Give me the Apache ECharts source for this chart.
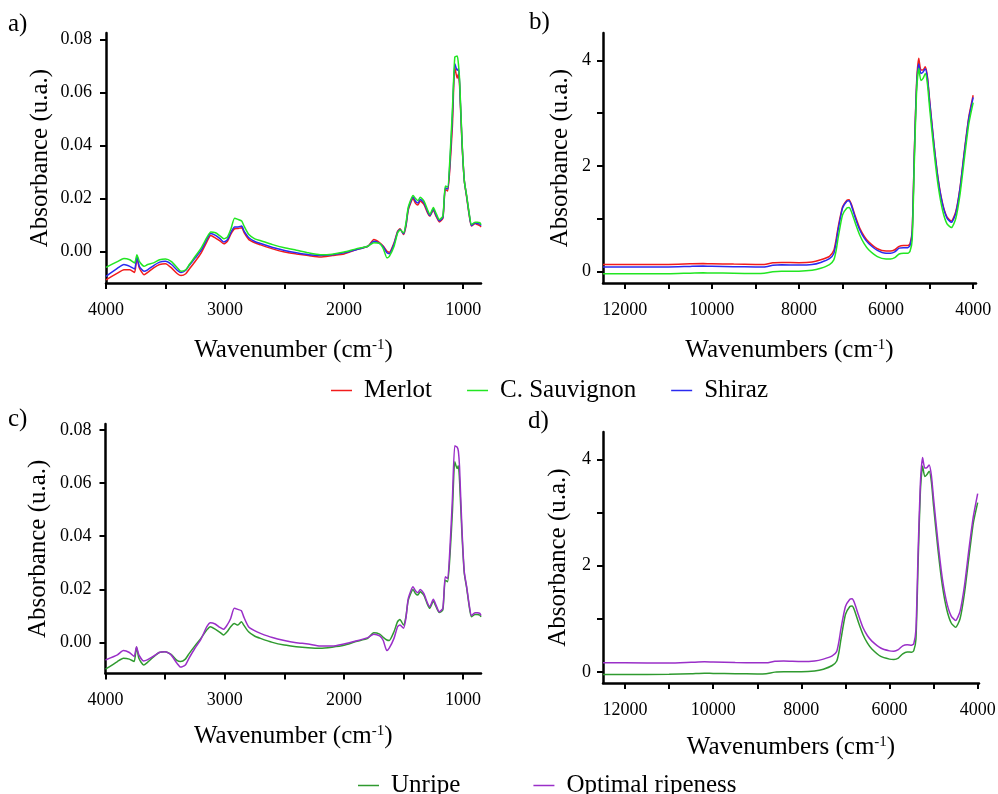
<!DOCTYPE html>
<html>
<head>
<meta charset="utf-8">
<script src="https://cdn.jsdelivr.net/npm/echarts@6/dist/echarts.min.js"></script>
<style>
html,body{margin:0;padding:0;background:#fff;}
#chart{width:998px;height:794px;}
</style>
</head>
<body>
<div id="chart"></div>
<script>
// ---------- DATA ----------
var mirWavenumbers = [4000,3900,3850,3800,3760,3740,3720,3680,3650,3600,3550,3500,3450,3400,3370,3330,3300,3250,3200,3150,3120,3080,3040,3010,2980,2950,2920,2890,2860,2840,2800,2750,2700,2600,2500,2400,2300,2200,2100,2000,1900,1800,1750,1700,1670,1640,1620,1580,1550,1530,1500,1480,1460,1420,1400,1380,1360,1330,1300,1280,1250,1230,1200,1170,1150,1130,1110,1090,1070,1050,1040,1030,1010,990,970,950,930,900,880,860,850];

var merlotMir = [-0.0108,-0.0082,-0.007,-0.007,-0.008,-0.0025,-0.0063,-0.0089,-0.008,-0.0063,
 -0.005,-0.0047,-0.0063,-0.0085,-0.0092,-0.0085,-0.0067,-0.0038,-0.0006,0.0038,
 0.006,0.005,0.0038,0.0028,0.0038,0.0066,0.0085,0.0086,0.0089,0.007,
 0.0044,0.0032,0.0024,0.0009,-0.0003,-0.001,-0.0016,-0.0022,-0.0016,-0.001,
 0.0006,0.0019,0.0044,0.0032,0.0019,0.0,-0.0004,0.0032,0.0076,0.0085,
 0.0063,0.0095,0.0158,0.0199,0.0181,0.0175,0.019,0.0177,0.0146,0.0133,
 0.0156,0.0135,0.0111,0.0124,0.0234,0.0228,0.0323,0.0475,0.0696,0.0654,
 0.067,0.0627,0.0411,0.0266,0.0203,0.0139,0.0095,0.0105,0.0101,0.0097,0.0092];

var sauvignonMir = [-0.0061,-0.0038,-0.0027,-0.0032,-0.0044,-0.0013,-0.0038,-0.0057,-0.005,-0.0044,
 -0.0032,-0.0029,-0.0039,-0.0063,-0.0076,-0.007,-0.005,-0.0019,0.0013,0.0054,
 0.0073,0.007,0.0057,0.0047,0.0054,0.0085,0.0125,0.012,0.0114,0.0095,
 0.0063,0.0047,0.004,0.0025,0.0013,0.0004,-0.0006,-0.0013,-0.0011,-0.0003,
 0.0009,0.0019,0.0032,0.0029,0.0009,-0.0025,-0.0019,0.0019,0.007,0.008,
 0.007,0.0108,0.0168,0.0211,0.0199,0.0191,0.0204,0.019,0.0158,0.0139,
 0.0165,0.0146,0.012,0.0133,0.0247,0.0243,0.036,0.0538,0.0734,0.0738,
 0.071,0.065,0.0424,0.0266,0.0209,0.0146,0.0101,0.011,0.011,0.0108,0.0101];

var shirazMir = [-0.0095,-0.0063,-0.005,-0.0057,-0.0067,-0.0019,-0.0057,-0.0076,-0.007,-0.0054,
 -0.0041,-0.0038,-0.005,-0.0072,-0.008,-0.0072,-0.0053,-0.0025,0.0004,0.0047,
 0.0067,0.006,0.0047,0.0035,0.0044,0.0072,0.0092,0.0092,0.0095,0.0076,
 0.0051,0.0037,0.0029,0.0014,0.0003,-0.0006,-0.0013,-0.0016,-0.0013,-0.0006,
 0.0006,0.0019,0.0038,0.0029,0.0016,-0.0006,-0.0009,0.0028,0.0073,0.0082,
 0.0066,0.01,0.0162,0.0205,0.0189,0.0182,0.0196,0.0184,0.0151,0.0135,
 0.016,0.0139,0.0115,0.0128,0.024,0.0235,0.0342,0.0513,0.0709,0.0684,
 0.069,0.0639,0.0418,0.0266,0.0206,0.0143,0.0097,0.0108,0.0105,0.0103,0.0097];

var optimalMir = [-0.0065,-0.0046,-0.003,-0.0037,-0.0052,-0.0015,-0.0046,-0.0069,-0.0065,-0.0052,
 -0.0037,-0.0034,-0.0046,-0.0078,-0.0092,-0.0084,-0.0059,-0.0021,0.0012,0.006,
 0.0075,0.007,0.0057,0.005,0.0066,0.0091,0.0129,0.0125,0.012,0.0097,
 0.006,0.0045,0.0035,0.0019,0.0008,0.0,-0.0005,-0.0013,-0.0013,-0.0005,
 0.0006,0.0019,0.0032,0.0025,0.0008,-0.003,-0.0021,0.0016,0.006,0.0066,
 0.0054,0.0091,0.0166,0.021,0.0195,0.0188,0.02,0.0185,0.015,0.0135,
 0.0163,0.0144,0.0116,0.0129,0.0248,0.0241,0.036,0.054,0.074,0.0735,
 0.072,0.066,0.043,0.0265,0.021,0.0145,0.0102,0.0112,0.0112,0.011,0.0102];

var unripeMir = [-0.01,-0.0071,-0.0059,-0.0062,-0.0071,-0.0017,-0.0059,-0.0084,-0.0075,-0.0055,
 -0.0037,-0.0034,-0.0044,-0.0067,-0.0071,-0.0062,-0.0042,-0.0012,0.0016,0.0048,
 0.006,0.0051,0.0039,0.0029,0.0041,0.006,0.0072,0.0066,0.0079,0.0066,
 0.0041,0.0025,0.0016,0.0001,-0.0009,-0.0015,-0.0019,-0.0021,-0.0017,-0.001,
 0.0004,0.0016,0.0037,0.0032,0.002,0.001,0.0008,0.0041,0.0079,0.0087,
 0.0066,0.0097,0.016,0.02,0.0185,0.0179,0.0191,0.0179,0.0145,0.0129,
 0.0156,0.0138,0.0113,0.0123,0.0235,0.0229,0.033,0.049,0.068,0.0655,
 0.0665,0.061,0.041,0.026,0.0205,0.014,0.0097,0.0106,0.0106,0.0103,0.0097];

var nirWavenumbers = [12500,12000,11000,10500,10200,10000,9500,9000,8800,8600,8400,8000,7700,7500,7300,7200,7150,7100,7000,6900,6850,6800,6700,6600,6500,6400,6200,6000,5900,5800,5700,5600,5500,5450,5400,5350,5300,5250,5200,5150,5100,5050,5000,4900,4800,4700,4600,4500,4400,4300,4200,4100,4000];

var merlotNir = [0.133,0.133,0.133,0.143,0.148,0.146,0.138,0.133,0.133,0.165,
 0.17,0.165,0.177,0.22,0.285,0.4,0.59,0.84,1.22,1.35,
 1.36,1.28,1.03,0.81,0.665,0.56,0.43,0.385,0.385,0.41,
 0.475,0.49,0.49,0.525,0.78,2.3,3.56,4.04,3.82,3.82,
 3.88,3.69,3.25,2.42,1.73,1.28,1.03,0.955,1.13,1.6,
 2.3,2.93,3.34];

var sauvignonNir = [-0.045,-0.045,-0.045,-0.033,-0.028,-0.03,-0.035,-0.04,-0.035,-0.005,
 0.005,0.005,0.02,0.06,0.13,0.22,0.38,0.64,1.07,1.2,
 1.21,1.14,0.9,0.68,0.52,0.41,0.28,0.235,0.235,0.26,
 0.33,0.345,0.345,0.38,0.6,2.1,3.4,3.85,3.62,3.66,
 3.75,3.55,3.1,2.28,1.6,1.15,0.9,0.83,1.0,1.47,
 2.15,2.8,3.2];

var shirazNir = [0.085,0.085,0.085,0.095,0.1,0.098,0.09,0.085,0.085,0.115,
 0.125,0.12,0.13,0.17,0.24,0.34,0.53,0.79,1.2,1.33,
 1.34,1.26,1.0,0.78,0.63,0.53,0.4,0.345,0.345,0.37,
 0.44,0.45,0.45,0.49,0.75,2.25,3.5,3.93,3.75,3.78,
 3.84,3.66,3.22,2.4,1.71,1.26,1.01,0.93,1.1,1.58,
 2.27,2.9,3.3];

var optimalNir = [0.17,0.17,0.165,0.18,0.19,0.185,0.175,0.17,0.17,0.2,
 0.205,0.195,0.205,0.24,0.3,0.38,0.56,0.82,1.23,1.37,
 1.38,1.31,1.06,0.83,0.68,0.58,0.45,0.395,0.39,0.42,
 0.49,0.51,0.5,0.53,0.8,2.3,3.55,4.04,3.84,3.85,
 3.9,3.7,3.26,2.44,1.75,1.3,1.05,0.97,1.14,1.62,
 2.3,2.92,3.36];

var unripeNir = [-0.05,-0.05,-0.045,-0.035,-0.025,-0.03,-0.035,-0.04,-0.035,-0.005,
 0.0,0.0,0.015,0.05,0.12,0.2,0.36,0.62,1.08,1.23,
 1.24,1.17,0.92,0.7,0.54,0.43,0.29,0.24,0.235,0.26,
 0.34,0.375,0.37,0.4,0.62,2.1,3.4,3.88,3.68,3.72,
 3.78,3.58,3.12,2.3,1.62,1.17,0.92,0.84,1.0,1.48,
 2.15,2.8,3.19];

var mirTickValues = [4000,3500,3000,2500,2000,1500,1000];
var mirLabelValues = [4000,3000,2000,1000];
var nirTickValues = [12000,11000,10000,9000,8000,7000,6000,5000,4000];
var nirLabelValues = [12000,10000,8000,6000,4000];
var mirYTicks = [0,0.02,0.04,0.06,0.08];
var nirYTicks = [0,1,2,3,4];
var nirYLabels = [0,2,4];

var legendTop = ['Merlot','C. Sauvignon','Shiraz'];
var legendBottom = ['Unripe','Optimal ripeness'];
var panelLabels = ['a)','b)','c)','d)'];

// ---------- CHART ----------
var FONT = '"Liberation Serif", "Times New Roman", serif';
function zip(xs, ys){ return xs.map(function(x,i){ return [x, ys[i]]; }); }

function xAxisDef(grid, isMir, gap){
  return {
    gridIndex: grid, type: 'value', inverse: true,
    min: isMir ? 850 : (grid === 1 ? 3935 : 3970),
    max: isMir ? 4000 : 12500,
    axisLine: {show: true, onZero: false, lineStyle: {color: '#000', width: 2.5}},
    axisTick: {show: true, customValues: isMir ? mirTickValues : nirTickValues, length: 6, lineStyle: {color: '#000', width: 2}},
    axisLabel: {customValues: isMir ? mirLabelValues : nirLabelValues, color: '#000', fontSize: 18, fontFamily: FONT, margin: 18,
      hideOverlap: false, formatter: function(v){ return String(v); }},
    splitLine: {show: false},
    name: isMir ? '{t|Wavenumber (cm}{s|-1}{t|)}' : '{t|Wavenumbers (cm}{s|-1}{t|)}',
    nameLocation: 'middle', nameGap: gap,
    nameTextStyle: {color: '#000', fontFamily: FONT, fontSize: 25,
      rich: {t: {fontSize: 25, fontFamily: FONT, color: '#000'}, s: {fontSize: 15, fontFamily: FONT, color: '#000', verticalAlign: 'top'}}}
  };
}
function yAxisDef(grid, isMir, gap){
  var y = {
    gridIndex: grid, type: 'value',
    axisLine: {show: true, onZero: false, lineStyle: {color: '#000', width: 2.5}},
    axisTick: {show: true, customValues: isMir ? mirYTicks : nirYTicks, length: 6, lineStyle: {color: '#000', width: 2}},
    axisLabel: {customValues: isMir ? mirYTicks : nirYLabels, color: '#000', fontSize: 18, fontFamily: FONT, margin: isMir ? 14 : 12,
      formatter: isMir ? function(v){ return v.toFixed(2); } : function(v){ return String(v); }},
    splitLine: {show: false},
    name: 'Absorbance (u.a.)', nameLocation: 'middle', nameGap: gap,
    nameTextStyle: {color: '#000', fontFamily: FONT, fontSize: 25}
  };
  if (grid === 0) { y.min = -0.012; y.max = 0.0825; }
  if (grid === 1) { y.min = -0.22; y.max = 4.52; }
  if (grid === 2) { y.min = -0.0116; y.max = 0.0822; }
  if (grid === 3) { y.min = -0.21; y.max = 4.52; }
  return y;
}
function lineSeries(name, grid, xs, ys, color){
  return {
    name: name, type: 'line', xAxisIndex: grid, yAxisIndex: grid,
    data: zip(xs, ys), showSymbol: false, symbol: 'none', smooth: 0.2,
    lineStyle: {color: color, width: 1.5}, itemStyle: {color: color},
    animation: false, silent: true
  };
}

var C = {merlot: '#f21c1c', sauv: '#22e622', shiraz: '#2a2af0', unripe: '#2f9a2f', optimal: '#9a2fc8'};

var chart = echarts.init(document.getElementById('chart'), null, {renderer: 'canvas'});
chart.setOption({
  backgroundColor: '#fff',
  animation: false,
  grid: [
    {left: 106, top: 33, width: 375, height: 250, outerBoundsMode: 'none', containLabel: false},
    {left: 603, top: 33, width: 373, height: 250, outerBoundsMode: 'none', containLabel: false},
    {left: 105.5, top: 424, width: 375.5, height: 249.5, outerBoundsMode: 'none', containLabel: false},
    {left: 603, top: 432, width: 376, height: 251, outerBoundsMode: 'none', containLabel: false}
  ],
  xAxis: [xAxisDef(0, true, 55), xAxisDef(1, false, 55), xAxisDef(2, true, 50), xAxisDef(3, false, 52)],
  yAxis: [yAxisDef(0, true, 53), yAxisDef(1, false, 30), yAxisDef(2, true, 55), yAxisDef(3, false, 32)],
  legend: [
    {data: legendTop, left: 326, top: 373, itemWidth: 21, itemHeight: 1.5, icon: 'rect', itemGap: 35,
     textStyle: {fontFamily: FONT, fontSize: 25, color: '#000', padding: [0,0,0,7]}, selectedMode: false},
    {data: legendBottom, left: 353, top: 768, itemWidth: 21, itemHeight: 1.5, icon: 'rect', itemGap: 73,
     textStyle: {fontFamily: FONT, fontSize: 25, color: '#000', padding: [0,0,0,7]}, selectedMode: false}
  ],
  graphic: [
    {type: 'text', left: 8, top: 12, style: {text: panelLabels[0], font: '25px ' + FONT, fill: '#000'}},
    {type: 'text', left: 529, top: 10, style: {text: panelLabels[1], font: '25px ' + FONT, fill: '#000'}},
    {type: 'text', left: 8, top: 407, style: {text: panelLabels[2], font: '25px ' + FONT, fill: '#000'}},
    {type: 'text', left: 528, top: 409, style: {text: panelLabels[3], font: '25px ' + FONT, fill: '#000'}}
  ],
  series: [
    lineSeries('Merlot', 0, mirWavenumbers, merlotMir, C.merlot),
    lineSeries('Shiraz', 0, mirWavenumbers, shirazMir, C.shiraz),
    lineSeries('C. Sauvignon', 0, mirWavenumbers, sauvignonMir, C.sauv),
    lineSeries('Merlot', 1, nirWavenumbers, merlotNir, C.merlot),
    lineSeries('Shiraz', 1, nirWavenumbers, shirazNir, C.shiraz),
    lineSeries('C. Sauvignon', 1, nirWavenumbers, sauvignonNir, C.sauv),
    lineSeries('Unripe', 2, mirWavenumbers, unripeMir, C.unripe),
    lineSeries('Optimal ripeness', 2, mirWavenumbers, optimalMir, C.optimal),
    lineSeries('Unripe', 3, nirWavenumbers, unripeNir, C.unripe),
    lineSeries('Optimal ripeness', 3, nirWavenumbers, optimalNir, C.optimal)
  ]
});
</script>
</body>
</html>
